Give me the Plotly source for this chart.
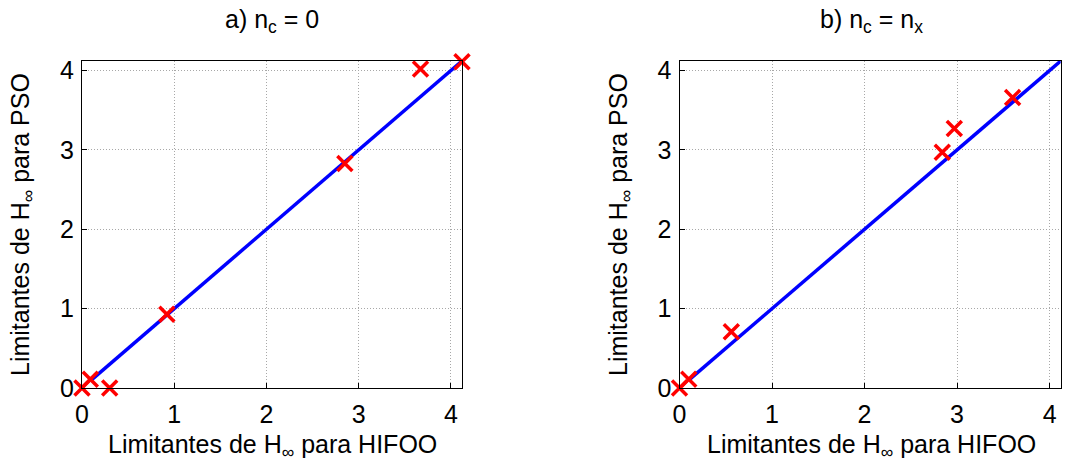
import plotly.graph_objects as go

# Panel a) n_c = 0
hifoo_a = [0.0, 0.09, 0.30, 0.92, 2.85, 3.67, 4.12]
pso_a = [0.0, 0.11, 0.0, 0.93, 2.83, 4.02, 4.11]
# Panel b) n_c = n_x
hifoo_b = [0.0, 0.10, 0.56, 2.84, 2.97, 3.60]
pso_b = [0.0, 0.11, 0.71, 2.97, 3.27, 3.66]
# Reference line y = x
ref_line = [0.1, 4.12]

titles = ["a) n<sub>c</sub> = 0", "b) n<sub>c</sub> = n<sub>x</sub>"]
xlabel = "Limitantes de H<sub>∞</sub> para HIFOO"
ylabel = "Limitantes de H<sub>∞</sub> para PSO"
ticks = [0, 1, 2, 3, 4]
rng = [0, 4.12]

W, H = 1080, 469
ffam = "Arial, Liberation Sans, sans-serif"
tickfont = dict(family=ffam, size=25, color="black")
labfont = dict(family=ffam, size=25, color="black")

fig = go.Figure()
for i, (hx, py) in enumerate([(hifoo_a, pso_a), (hifoo_b, pso_b)]):
    xa = "x" if i == 0 else "x2"
    ya = "y" if i == 0 else "y2"
    fig.add_trace(go.Scatter(x=ref_line, y=ref_line, mode="lines",
                             line=dict(color="#0000ff", width=3.5),
                             xaxis=xa, yaxis=ya, showlegend=False))
    fig.add_trace(go.Scatter(x=hx, y=py, mode="markers",
                             marker=dict(symbol="x-thin", size=15,
                                         line=dict(color="#ff0000", width=3.5),
                                         color="#ff0000"),
                             xaxis=xa, yaxis=ya, showlegend=False, cliponaxis=False))

axis_common = dict(range=rng, tickvals=ticks, ticks="inside", ticklen=5,
                   tickcolor="black", showline=True, linecolor="black",
                   linewidth=1, mirror=True, showgrid=True,
                   gridcolor="#a8a8a8", griddash="1px,2px", gridwidth=1,
                   zeroline=False, tickfont=tickfont, automargin=False)

ann = []
# (center x in px, center y in px, text, angle)
label_specs = [
    (272, 21, titles[0], 0),
    (871, 21, titles[1], 0),
    (272, 446, xlabel, 0),
    (871, 446, xlabel, 0),
    (22, 225, ylabel, -90),
    (620, 225, ylabel, -90),
]
for cx, cy, txt, ang in label_specs:
    ann.append(dict(text=txt, x=cx / W, y=1 - cy / H, xref="paper", yref="paper",
                    xanchor="center", yanchor="middle", showarrow=False,
                    textangle=ang, font=labfont))

fig.update_layout(
    width=W, height=H,
    margin=dict(l=0, r=0, t=0, b=0),
    paper_bgcolor="white", plot_bgcolor="white",
    font=labfont,
    xaxis=dict(domain=[82 / W, 462 / W], anchor="y", ticklabelstandoff=4, **axis_common),
    yaxis=dict(domain=[1 - 388 / H, 1 - 61 / H], anchor="x", ticklabelstandoff=2, **axis_common),
    xaxis2=dict(domain=[679.5 / W, 1060.7 / W], anchor="y2", ticklabelstandoff=4, **axis_common),
    yaxis2=dict(domain=[1 - 388 / H, 1 - 61 / H], anchor="x2", ticklabelstandoff=2, **axis_common),
    annotations=ann,
)

fig.write_html("out.html")
